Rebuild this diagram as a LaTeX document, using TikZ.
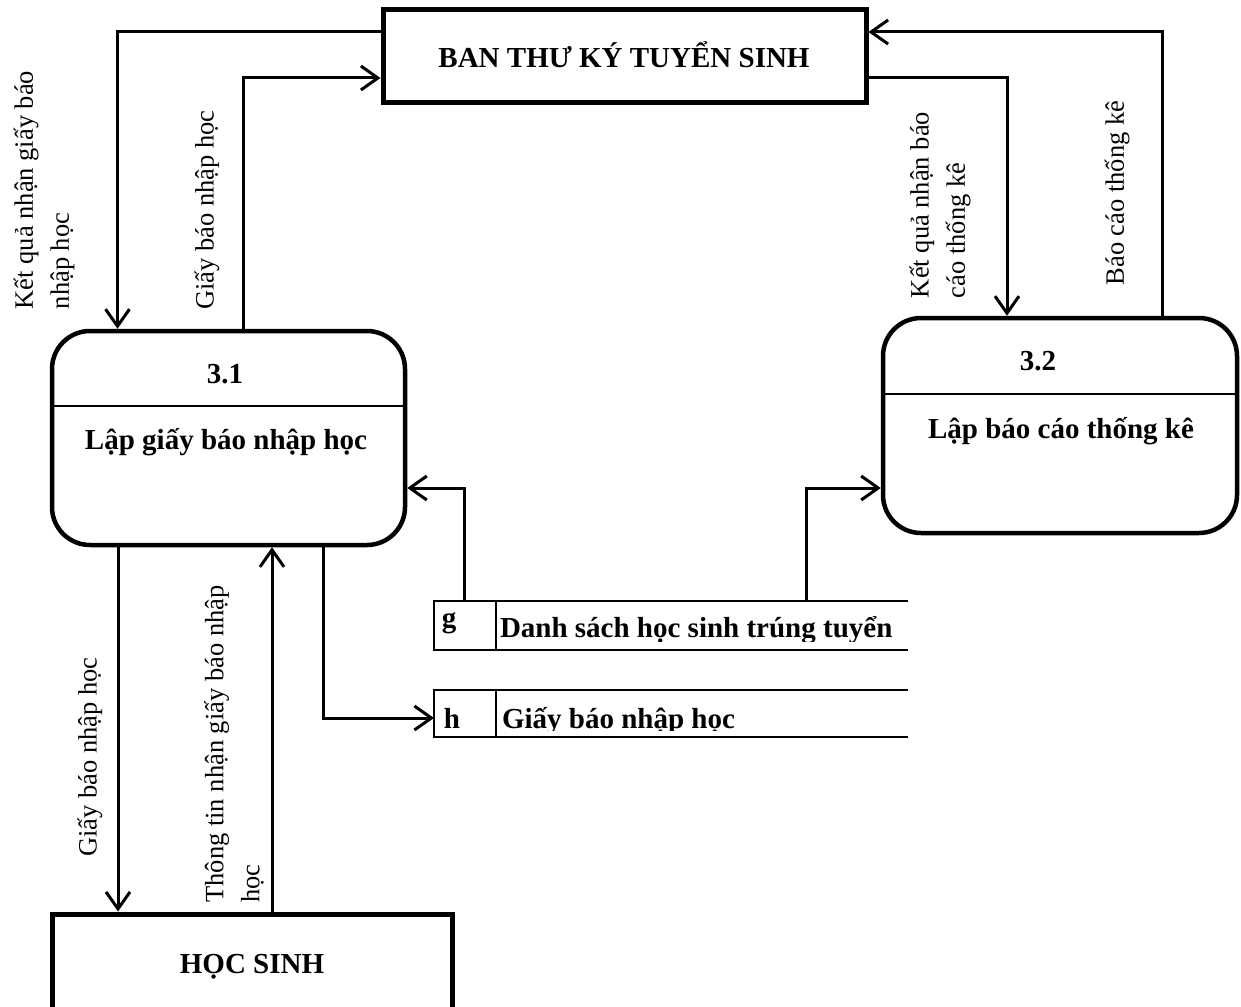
\documentclass[tikz,border=0pt]{standalone}
\usepackage{fontspec}
\setmainfont{Liberation Serif}
\usetikzlibrary{arrows.meta}
\begin{document}
\begin{tikzpicture}[x=1pt,y=-1pt,
  every node/.style={inner sep=0pt, outer sep=0pt},
  lbl/.style={font=\fontsize{26.5pt}{36pt}\selectfont, rotate=90, align=left},
  bold/.style={font=\fontsize{29pt}{35pt}\selectfont\bfseries},
  ext/.style={draw, rectangle, line width=5pt, outer sep=2.5pt},
  proc/.style={draw, rectangle, line width=4.5pt, rounded corners=38pt, outer sep=2.25pt},
  store/.style={rectangle},
  storeline/.style={line width=2pt},
  flow/.style={line width=3pt, -{Straight Barb[length=17pt,width=24pt,line width=3pt]}}
]
\clip (0,0) rectangle (1241,1006);

% external entities
\node[ext, minimum width=483pt, minimum height=93pt] (ban) at (624.5,56.5) {};
\node[bold, anchor=base] (bantext) at (624,68) {BAN THƯ KÝ TUYỂN SINH};
\node[ext, minimum width=400pt, minimum height=96pt] (hs) at (252,962) {};
\node[bold, anchor=base] (hstext) at (252,973) {HỌC SINH};

% processes
\node[proc, minimum width=353pt, minimum height=214pt] (p31) at (228.5,438) {};
\draw[storeline] (p31.west |- 0,406) -- (p31.east |- 0,406);
\node[bold, anchor=base] (p31id) at (225,383) {3.1};
\node[bold, anchor=base] (p31name) at (226,449) {Lập giấy báo nhập học};

\node[proc, minimum width=354pt, minimum height=215pt] (p32) at (1060,425.5) {};
\draw[storeline] (p32.west |- 0,394) -- (p32.east |- 0,394);
\node[bold, anchor=base] (p32id) at (1038,370) {3.2};
\node[bold, anchor=base] (p32name) at (1061,438) {Lập báo cáo thống kê};

% data stores
\node[store, minimum width=474pt, minimum height=49pt] (gs) at (671,625.5) {};
\draw[storeline] (908,601) -- (434,601) -- (434,650) -- (908,650);
\draw[storeline] (496,601) -- (496,650);
\node[bold, anchor=base] (gid) at (449,627) {g};
\begin{scope}
  \clip (497,602) rectangle (908,641);
  \node[bold, anchor=base west] (gname) at (500,637) {Danh sách học sinh trúng tuyển};
\end{scope}

\node[store, minimum width=474pt, minimum height=47pt] (hst) at (671,713.5) {};
\draw[storeline] (908,690) -- (434,690) -- (434,737) -- (908,737);
\draw[storeline] (496,690) -- (496,737);
\node[bold, anchor=base] (hid) at (452,728) {h};
\begin{scope}
  \clip (497,691) rectangle (908,730);
  \node[bold, anchor=base west] (hname) at (502,728) {Giấy báo nhập học};
\end{scope}

% data flows
\draw[flow] ([yshift=24.5pt]ban.west) -| ([xshift=-111pt]p31.north);
\draw[flow] ([xshift=14.5pt]p31.north) |- ([yshift=-21.5pt]ban.west);
\draw[flow] ([yshift=-21.5pt]ban.east) -| ([xshift=-53pt]p32.north);
\draw[flow] ([xshift=102pt]p32.north) |- ([yshift=24.5pt]ban.east);
\draw[flow] ([xshift=-207pt]gs.north) |- ([yshift=-50pt]p31.east);
\draw[flow] ([xshift=135pt]gs.north) |- ([yshift=-62.5pt]p32.west);
\draw[flow] ([xshift=-110.5pt]p31.south) -- ([xshift=-134pt]hs.north);
\draw[flow] ([xshift=20pt]hs.north) -- ([xshift=43.5pt]p31.south);
\draw[flow] ([xshift=95pt]p31.south) |- ([yshift=-4.5pt]hst.west);

% flow labels
\node[lbl] (l1) at (44,190) {Kết quả nhận giấy báo\\nhập học};
\node[lbl] (l2) at (207,210) {Giấy báo nhập học};
\node[lbl] (l3) at (940,205) {Kết quả nhận báo\\cáo thống kê};
\node[lbl] (l4) at (1117,193) {Báo cáo thống kê};
\node[lbl] (l5) at (90,757) {Giấy báo nhập học};
\node[lbl] (l6) at (234,744) {Thông tin nhận giấy báo nhập\\học};
\end{tikzpicture}
\end{document}
